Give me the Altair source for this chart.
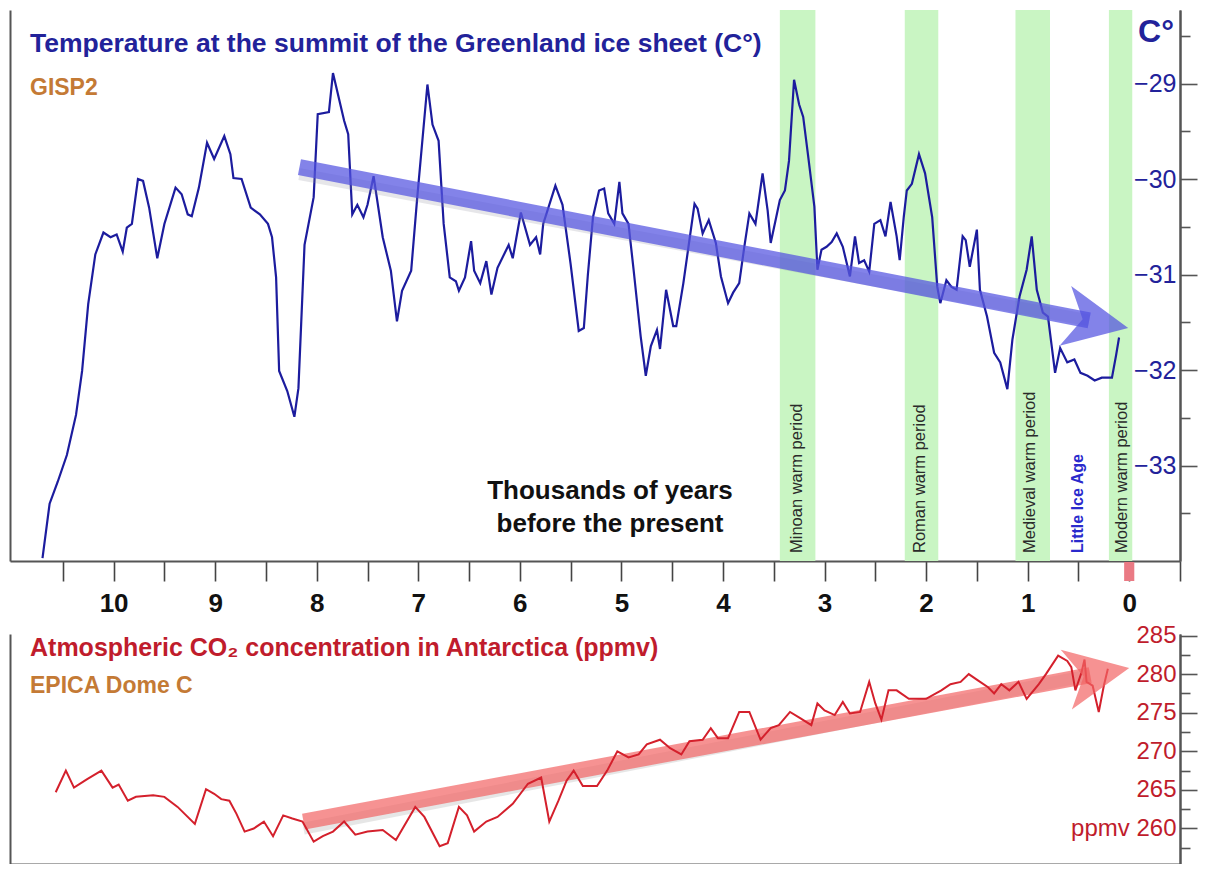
import math
import altair as alt
import pandas as pd

FONT = "Liberation Sans, Arial, sans-serif"

# ---------------- data ----------------
# GISP2 temperature (thousands of years before present, deg C)
temp_ky = [10.70, 10.63, 10.55, 10.46, 10.37, 10.31, 10.25, 10.18, 10.10, 10.03, 9.97, 9.91, 9.87, 9.82,
           9.76, 9.71, 9.65, 9.57, 9.50, 9.39, 9.33, 9.27, 9.23, 9.16, 9.08, 9.01, 8.91, 8.85, 8.82, 8.74,
           8.65, 8.56, 8.48, 8.44, 8.40, 8.37, 8.29, 8.22, 8.18, 8.12, 8.03, 7.99, 7.88, 7.84, 7.73, 7.69,
           7.65, 7.60, 7.54, 7.50, 7.44, 7.35, 7.27, 7.21, 7.16, 7.07, 7.01, 6.91, 6.86, 6.80, 6.75, 6.69,
           6.63, 6.60, 6.54, 6.48, 6.45, 6.39, 6.33, 6.28, 6.22, 6.11, 6.07, 5.99, 5.90, 5.84, 5.80, 5.77,
           5.65, 5.58, 5.50, 5.42, 5.37, 5.33, 5.28, 5.22, 5.17, 5.13, 5.07, 5.02, 4.99, 4.93, 4.88, 4.81,
           4.76, 4.71, 4.65, 4.62, 4.56, 4.49, 4.46, 4.39, 4.28, 4.25, 4.20, 4.14, 4.07, 4.02, 3.95, 3.90,
           3.84, 3.79, 3.74, 3.68, 3.61, 3.56, 3.53, 3.49, 3.44, 3.39, 3.35, 3.30, 3.25, 3.21, 3.16, 3.10,
           3.07, 3.03, 2.98, 2.93, 2.88, 2.82, 2.75, 2.70, 2.66, 2.61, 2.56, 2.51, 2.45, 2.40, 2.35, 2.29,
           2.26, 2.22, 2.19, 2.14, 2.07, 2.01, 1.94, 1.89, 1.86, 1.80, 1.75, 1.70, 1.64, 1.61, 1.57, 1.50,
           1.47, 1.40, 1.33, 1.27, 1.20, 1.15, 1.08, 1.01, 0.96, 0.91, 0.85, 0.80, 0.73, 0.68, 0.61, 0.54,
           0.48, 0.41, 0.34, 0.27, 0.17, 0.13, 0.10]
temp_c = [-33.97, -33.40, -33.17, -32.89, -32.47, -32.01, -31.31, -30.79, -30.56, -30.61, -30.58, -30.76,
          -30.51, -30.47, -30.00, -30.02, -30.30, -30.83, -30.47, -30.09, -30.16, -30.37, -30.39, -30.09,
          -29.62, -29.79, -29.55, -29.74, -29.99, -30.00, -30.30, -30.37, -30.47, -30.61, -31.03, -32.01,
          -32.22, -32.49, -32.19, -30.69, -30.19, -29.32, -29.30, -28.89, -29.39, -29.53, -30.37, -30.27,
          -30.40, -30.27, -29.97, -30.61, -30.96, -31.49, -31.17, -30.96, -30.19, -29.01, -29.43, -29.60,
          -30.47, -31.03, -31.07, -31.17, -31.03, -30.65, -30.96, -31.09, -30.86, -31.21, -30.93, -30.69,
          -30.83, -30.35, -30.69, -30.61, -30.79, -30.47, -30.07, -30.27, -30.89, -31.59, -31.56, -31.00,
          -30.40, -30.12, -30.10, -30.36, -30.47, -30.03, -30.36, -30.47, -30.95, -31.65, -32.06, -31.75,
          -31.58, -31.78, -31.16, -31.54, -31.54, -31.09, -30.26, -30.31, -30.57, -30.43, -30.67, -31.02,
          -31.30, -31.19, -31.09, -30.71, -30.36, -30.47, -29.94, -30.33, -30.67, -30.47, -30.22, -30.12,
          -29.81, -28.96, -29.22, -29.35, -29.77, -30.29, -30.95, -30.74, -30.71, -30.66, -30.57, -30.71,
          -31.02, -30.60, -30.88, -30.85, -30.97, -30.47, -30.43, -30.60, -30.24, -30.60, -30.85, -30.40,
          -30.12, -30.05, -29.74, -29.94, -30.40, -31.13, -31.30, -31.06, -31.13, -31.16, -30.60, -30.64,
          -30.92, -30.53, -31.16, -31.44, -31.82, -31.92, -32.20, -31.68, -31.23, -30.95, -30.60, -31.16,
          -31.40, -31.44, -32.03, -31.77, -31.92, -31.89, -32.03, -32.06, -32.11, -32.08, -32.08, -31.85,
          -31.66]

# EPICA Dome C CO2 (thousands of years before present, ppmv)
co2_ky = [10.57, 10.47, 10.39, 10.26, 10.12, 10.01, 9.95, 9.86, 9.78, 9.61, 9.50, 9.37, 9.20, 9.09, 9.01,
          8.94, 8.86, 8.79, 8.71, 8.62, 8.52, 8.43, 8.33, 8.24, 8.14, 8.03, 7.94, 7.84, 7.73, 7.62, 7.50,
          7.35, 7.22, 7.03, 6.94, 6.79, 6.71, 6.60, 6.52, 6.45, 6.33, 6.22, 6.07, 5.92, 5.79, 5.71, 5.62,
          5.54, 5.47, 5.38, 5.24, 5.14, 5.04, 4.93, 4.83, 4.75, 4.62, 4.52, 4.41, 4.33, 4.20, 4.12, 4.05,
          3.95, 3.84, 3.74, 3.63, 3.53, 3.45, 3.34, 3.24, 3.13, 3.07, 3.00, 2.90, 2.82, 2.75, 2.65, 2.56,
          2.50, 2.44, 2.37, 2.29, 2.17, 2.00, 1.85, 1.76, 1.66, 1.58, 1.49, 1.39, 1.33, 1.26, 1.18, 1.09,
          1.01, 0.89, 0.82, 0.70, 0.61, 0.57, 0.53, 0.47, 0.44, 0.42, 0.36, 0.30, 0.25, 0.21]
co2_ppmv = [264.7, 267.5, 265.3, 266.4, 267.5, 265.3, 265.7, 263.6, 264.1, 264.3, 264.1, 262.8, 260.6,
            265.1, 264.5, 263.8, 263.6, 261.9, 259.6, 260.0, 260.9, 259.0, 261.7, 261.3, 260.9, 258.3,
            259.0, 259.6, 260.9, 259.2, 259.6, 259.8, 258.5, 262.8, 261.5, 257.7, 258.1, 262.8, 261.7,
            259.6, 260.9, 261.5, 263.2, 265.8, 266.6, 260.9, 263.6, 266.2, 267.5, 265.5, 265.5, 267.5,
            270.0, 269.2, 269.6, 270.9, 271.5, 270.4, 269.6, 271.3, 271.5, 273.0, 271.7, 271.7, 275.1,
            275.1, 271.5, 273.0, 273.4, 275.1, 274.3, 273.4, 276.2, 275.3, 274.7, 276.4, 274.9, 275.1,
            279.0, 276.2, 274.1, 277.9, 277.9, 276.8, 276.8, 277.9, 278.7, 279.0, 280.0, 279.2, 278.3,
            277.5, 278.7, 277.9, 279.0, 276.8, 278.7, 280.0, 282.4, 281.7, 280.9, 277.9, 280.2, 281.9,
            279.0, 278.5, 275.1, 278.5, 280.7]

band_start = [3.44, 2.21, 1.12, 0.20]
band_end = [3.09, 1.88, 0.78, -0.03]
band_label = ["Minoan warm period", "Roman warm period", "Medieval warm period", "Modern warm period"]
band_label_ky = [3.27, 2.06, 0.975, 0.07]
ice_age_label = ["Little Ice Age"]
ice_age_ky = [0.50]
present_marker = [0.0]

x_tick_values = [10.5, 10, 9.5, 9, 8.5, 8, 7.5, 7, 6.5, 6, 5.5, 5, 4.5, 4, 3.5, 3, 2.5, 2, 1.5, 1, 0.5, 0, -0.5]
t_major = [-29, -30, -31, -32, -33]
t_minor = [-28.5, -29.5, -30.5, -31.5, -32.5, -33.5]
c_major = [285, 280, 275, 270, 265, 260]
c_minor = [282.5, 277.5, 272.5, 267.5, 262.5, 257.5]

# trend arrows (start, tip) in data coordinates
temp_arrow = [(8.17, -29.875), (0.01, -31.56)]
co2_arrow = [(8.13, 260.9), (0.0, 280.8)]

top_title = ["Temperature at the summit of the Greenland ice sheet (C°)"]
top_sub = ["GISP2"]
unit_top = ["C°"]
xlabel = ["Thousands of years\nbefore the present"]
bot_title = ["Atmospheric CO₂ concentration in Antarctica (ppmv)"]
bot_sub = ["EPICA Dome C"]

# ---------------- layout ----------------
W = 1170
H_TOP = 551
H_BOT = 230
GAP = 73
X_DOMAIN = [-0.5, 11.02]
T_DOMAIN = [-34.0, -28.23]
C_DOMAIN = [255.4, 285.2]
MAJOR_TICK = 17
MINOR_TICK = 10

BLUE_LINE = "#1c1c9e"
BLUE_TXT = "#22229a"
RED_LINE = "#d4202c"
RED_TXT = "#c01c2c"
BROWN = "#c47a35"
GREEN = "#c9f5c3"
AX = "#555555"

HEAD_LEN = 64
HEAD_SHAPE = "M 1 0 L -1 -0.95 L -0.45 0 L -1 0.95 Z"

x_scale = alt.Scale(domain=X_DOMAIN, reverse=True, nice=False, zero=False)
t_scale = alt.Scale(domain=T_DOMAIN, nice=False, zero=False)
c_scale = alt.Scale(domain=C_DOMAIN, nice=False, zero=False)

px_x = W / (X_DOMAIN[1] - X_DOMAIN[0])


def arrow_geom(arrow, px_y):
    (sx, sy), (tx, ty) = arrow
    dxp = (sx - tx) * px_x
    dyp = (sy - ty) * px_y
    length = math.hypot(dxp, dyp)
    ang = math.degrees(math.atan2(dyp, dxp)) % 360

    def at(frac):
        return tx + frac * (sx - tx), ty + frac * (sy - ty)

    ex, ey = at(0.62 * HEAD_LEN / length)
    hx, hy = at(0.5 * HEAD_LEN / length)
    shaft = pd.DataFrame({"x": [sx], "y": [sy], "x2": [ex], "y2": [ey]})
    head = pd.DataFrame({"x": [hx], "y": [hy]})
    return shaft, head, ang


def left_domain_axis():
    return alt.Axis(orient="left", ticks=False, labels=False, domain=True, domainColor=AX,
                    domainWidth=2, title=None, grid=False)


def right_major_axis(values, color, label_expr, font_size):
    return alt.Axis(orient="right", values=values, tickSize=MAJOR_TICK, tickColor=AX, tickWidth=1.6,
                    domain=True, domainColor=AX, domainWidth=2, labels=True, labelAlign="right",
                    labelBaseline="middle", labelPadding=-(MAJOR_TICK + 4), labelColor=color,
                    labelFont=FONT, labelFontSize=font_size, labelExpr=label_expr,
                    title=None, grid=False, labelFlush=False, labelOverlap=False)


def right_minor_axis(values):
    return alt.Axis(orient="right", values=values, tickSize=MINOR_TICK, tickColor=AX, tickWidth=1.6,
                    domain=True, domainColor=AX, domainWidth=2, labels=False, title=None, grid=False)


top_x_axis = alt.Axis(
    orient="bottom", values=x_tick_values, tickSize=20, tickColor="#444", tickWidth=1.6,
    domain=True, domainColor=AX, domainWidth=2,
    labelExpr="datum.value % 1 === 0 ? '' + datum.value : ''",
    labelFont=FONT, labelFontSize=26, labelFontWeight="bold", labelColor="#111",
    labelPadding=9, title=None, grid=False, labelFlush=False, labelOverlap=False)

bottom_x_axis = alt.Axis(orient="bottom", ticks=False, labels=False, domain=True,
                         domainColor=AX, domainWidth=2, title=None, grid=False)

# ---------------- top panel ----------------
bands_df = pd.DataFrame({"s": band_start, "e": band_end})
bands = alt.Chart(bands_df).mark_rect(color=GREEN).encode(
    x=alt.X("s:Q", scale=x_scale, axis=None),
    x2="e:Q",
    y=alt.value(0),
    y2=alt.value(H_TOP),
)

temp_df = pd.DataFrame({"ky": temp_ky, "t": temp_c})
temp_line = alt.Chart(temp_df).mark_line(color=BLUE_LINE, strokeWidth=2.2).encode(
    x=alt.X("ky:Q", scale=x_scale, axis=top_x_axis),
    y=alt.Y("t:Q", scale=t_scale,
            axis=right_major_axis(t_major, BLUE_TXT, "'\u2212' + abs(datum.value)", 25)),
    order="ky:Q",
)

t_shaft, t_head, t_ang = arrow_geom(temp_arrow, H_TOP / (T_DOMAIN[1] - T_DOMAIN[0]))
t_shadow = alt.Chart(t_shaft).mark_rule(color="#8c8c9c", strokeWidth=12, opacity=0.22, yOffset=7).encode(
    x=alt.X("x:Q", scale=x_scale, axis=None), x2="x2:Q",
    y=alt.Y("y:Q", scale=t_scale, axis=left_domain_axis()), y2="y2:Q")
t_shaft_mark = alt.Chart(t_shaft).mark_rule(color="#5353e0", strokeWidth=16, opacity=0.72).encode(
    x=alt.X("x:Q", scale=x_scale, axis=None), x2="x2:Q",
    y=alt.Y("y:Q", scale=t_scale, axis=right_minor_axis(t_minor)), y2="y2:Q")
t_head_mark = alt.Chart(t_head).mark_point(shape=HEAD_SHAPE, size=HEAD_LEN ** 2, angle=t_ang,
                                           filled=True, color="#5353e0", opacity=0.72,
                                           strokeWidth=0).encode(
    x=alt.X("x:Q", scale=x_scale, axis=None),
    y=alt.Y("y:Q", scale=t_scale, axis=None))

band_txt = alt.Chart(pd.DataFrame({"ky": band_label_ky, "lab": band_label})).mark_text(
    angle=270, align="left", baseline="middle", font=FONT, fontSize=16.5, color="#2a2a2a").encode(
    x=alt.X("ky:Q", scale=x_scale, axis=None), y=alt.value(H_TOP - 8), text="lab:N")
ice_txt = alt.Chart(pd.DataFrame({"ky": ice_age_ky, "lab": ice_age_label})).mark_text(
    angle=270, align="left", baseline="middle", font=FONT, fontSize=16, fontWeight="bold",
    color="#2a2acc").encode(
    x=alt.X("ky:Q", scale=x_scale, axis=None), y=alt.value(H_TOP - 8), text="lab:N")

marker = alt.Chart(pd.DataFrame({"a": [present_marker[0] + 0.05], "b": [present_marker[0] - 0.05]})).mark_rect(
    color="#ea7a84").encode(
    x=alt.X("a:Q", scale=x_scale, axis=None), x2="b:Q",
    y=alt.value(H_TOP + 1), y2=alt.value(H_TOP + 20))

title_top = alt.Chart(pd.DataFrame({"t": top_title})).mark_text(
    align="left", baseline="middle", font=FONT, fontSize=26.5, fontWeight="bold", color=BLUE_TXT).encode(
    text="t:N", x=alt.value(20), y=alt.value(34))
sub_top = alt.Chart(pd.DataFrame({"t": top_sub})).mark_text(
    align="left", baseline="middle", font=FONT, fontSize=23, fontWeight="bold", color=BROWN).encode(
    text="t:N", x=alt.value(20), y=alt.value(78))
unit_txt = alt.Chart(pd.DataFrame({"t": unit_top})).mark_text(
    align="center", baseline="middle", font=FONT, fontSize=32, fontWeight="bold", color=BLUE_TXT).encode(
    text="t:N", x=alt.value(W - 24), y=alt.value(22))
xlab_txt = alt.Chart(pd.DataFrame({"t": xlabel})).mark_text(
    align="center", baseline="middle", font=FONT, fontSize=26, fontWeight="bold", color="#111",
    lineBreak="\n", lineHeight=33).encode(
    text="t:N", x=alt.value(600), y=alt.value(481))

top = alt.layer(bands, temp_line, t_shadow, t_shaft_mark, t_head_mark, band_txt, ice_txt, marker,
                title_top, sub_top, unit_txt, xlab_txt).resolve_axis(
    x="independent", y="independent").properties(width=W, height=H_TOP)

# ---------------- bottom panel ----------------
co2_df = pd.DataFrame({"ky": co2_ky, "c": co2_ppmv})
co2_line = alt.Chart(co2_df).mark_line(color=RED_LINE, strokeWidth=2).encode(
    x=alt.X("ky:Q", scale=x_scale, axis=bottom_x_axis),
    y=alt.Y("c:Q", scale=c_scale,
            axis=right_major_axis(c_major, RED_TXT,
                                  "datum.value == 260 ? 'ppmv 260' : '' + datum.value", 24)),
    order="ky:Q",
)

c_shaft, c_head, c_ang = arrow_geom(co2_arrow, H_BOT / (C_DOMAIN[1] - C_DOMAIN[0]))
c_shadow = alt.Chart(c_shaft).mark_rule(color="#8c8c8c", strokeWidth=12, opacity=0.22, yOffset=7).encode(
    x=alt.X("x:Q", scale=x_scale, axis=None), x2="x2:Q",
    y=alt.Y("y:Q", scale=c_scale, axis=left_domain_axis()), y2="y2:Q")
c_shaft_mark = alt.Chart(c_shaft).mark_rule(color="#f26464", strokeWidth=16, opacity=0.7).encode(
    x=alt.X("x:Q", scale=x_scale, axis=None), x2="x2:Q",
    y=alt.Y("y:Q", scale=c_scale, axis=right_minor_axis(c_minor)), y2="y2:Q")
c_head_mark = alt.Chart(c_head).mark_point(shape=HEAD_SHAPE, size=HEAD_LEN ** 2, angle=c_ang,
                                           filled=True, color="#f26464", opacity=0.7,
                                           strokeWidth=0).encode(
    x=alt.X("x:Q", scale=x_scale, axis=None),
    y=alt.Y("y:Q", scale=c_scale, axis=None))

title_bot = alt.Chart(pd.DataFrame({"t": bot_title})).mark_text(
    align="left", baseline="middle", font=FONT, fontSize=25, fontWeight="bold", color=RED_TXT).encode(
    text="t:N", x=alt.value(20), y=alt.value(14))
sub_bot = alt.Chart(pd.DataFrame({"t": bot_sub})).mark_text(
    align="left", baseline="middle", font=FONT, fontSize=23, fontWeight="bold", color=BROWN).encode(
    text="t:N", x=alt.value(20), y=alt.value(52))

bottom = alt.layer(c_shadow, c_shaft_mark, co2_line, c_head_mark, title_bot, sub_bot).resolve_axis(
    x="independent", y="independent").properties(width=W, height=H_BOT)

chart = alt.vconcat(top, bottom, spacing=GAP, bounds="flush").resolve_scale(
    x="independent").resolve_axis(x="independent").properties(
    padding={"left": 2, "top": 2, "right": 0, "bottom": 0},
    background="white",
).configure_view(stroke=None)

chart.save("out.html", embed_options={"renderer": "svg", "actions": False})
